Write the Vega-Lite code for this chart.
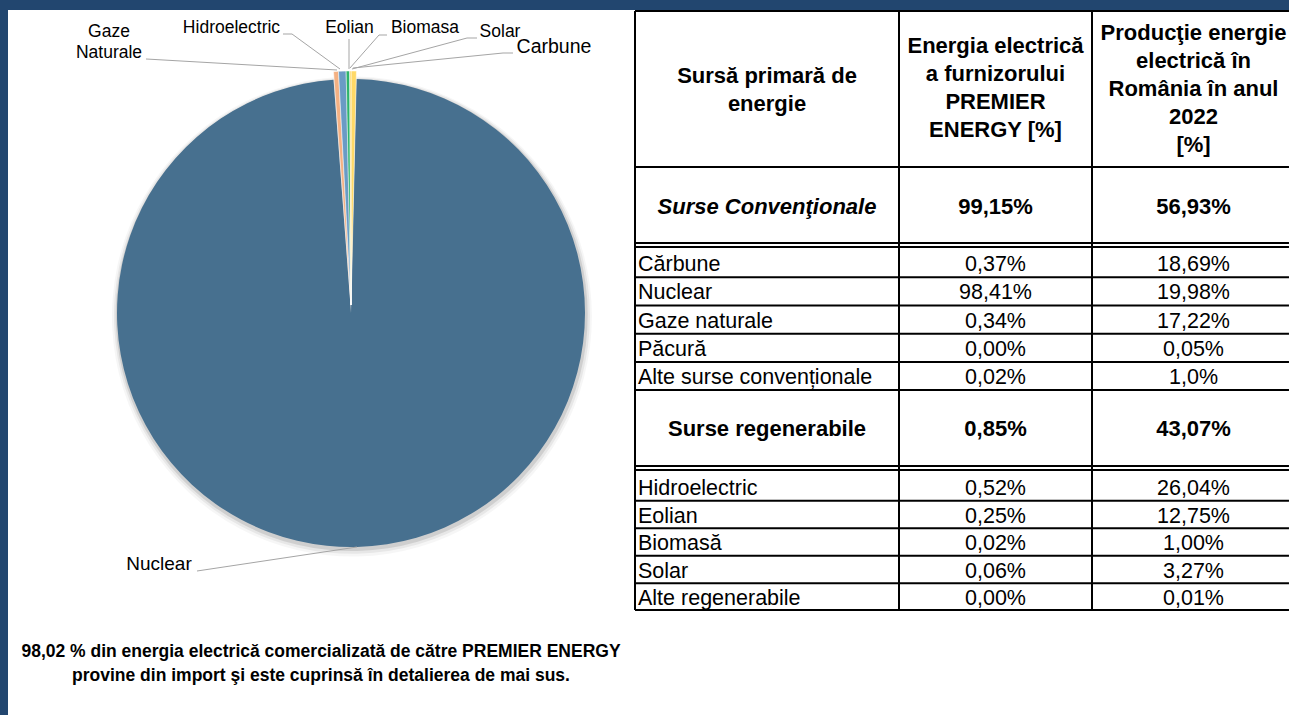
{
  "$schema": "https://vega.github.io/schema/vega-lite/v6.json",
  "background": "#22466F",
  "padding": {"left": 8, "top": 10, "right": 0, "bottom": 0},
  "bounds": "flush",
  "spacing": 0,
  "config": {"view": {"stroke": null, "fill": "white"}, "font": "Liberation Sans", "axis": {"minExtent": 0}},
  "datasets": {
    "slices": [
      {"name": "Carbune", "label": "Carbune", "value": 0.37, "ord": 1},
      {"name": "Nuclear", "label": "Nuclear", "value": 98.41, "ord": 2},
      {"name": "Gaze", "label": "Gaze Naturale", "value": 0.34, "ord": 3},
      {"name": "Hidroelectric", "label": "Hidroelectric", "value": 0.52, "ord": 4},
      {"name": "Eolian", "label": "Eolian", "value": 0.25, "ord": 5},
      {"name": "Biomasa", "label": "Biomasa", "value": 0.02, "ord": 6},
      {"name": "Solar", "label": "Solar", "value": 0.06, "ord": 7}
    ],
    "note": [
      {"t": "98,02 % din energia electrică comercializată de către PREMIER ENERGY\nprovine din import şi este cuprinsă în detalierea de mai sus."}
    ],
    "table": [
      {"r": 0, "c": 1, "k": "h", "t": "Sursă primară de\nenergie"},
      {"r": 0, "c": 2, "k": "h", "t": "Energia electrică\na furnizorului\nPREMIER\nENERGY [%]"},
      {"r": 0, "c": 3, "k": "h", "t": "Producţie energie\nelectrică în\nRomânia în anul\n2022\n[%]"},
      {"r": 1, "c": 1, "k": "si", "t": "Surse Convenţionale"},
      {"r": 1, "c": 2, "k": "s", "t": "99,15%"},
      {"r": 1, "c": 3, "k": "s", "t": "56,93%"},
      {"r": 2, "c": 1, "k": "d", "t": "Cărbune"},
      {"r": 2, "c": 2, "k": "d", "t": "0,37%"},
      {"r": 2, "c": 3, "k": "d", "t": "18,69%"},
      {"r": 3, "c": 1, "k": "d", "t": "Nuclear"},
      {"r": 3, "c": 2, "k": "d", "t": "98,41%"},
      {"r": 3, "c": 3, "k": "d", "t": "19,98%"},
      {"r": 4, "c": 1, "k": "d", "t": "Gaze naturale"},
      {"r": 4, "c": 2, "k": "d", "t": "0,34%"},
      {"r": 4, "c": 3, "k": "d", "t": "17,22%"},
      {"r": 5, "c": 1, "k": "d", "t": "Păcură"},
      {"r": 5, "c": 2, "k": "d", "t": "0,00%"},
      {"r": 5, "c": 3, "k": "d", "t": "0,05%"},
      {"r": 6, "c": 1, "k": "d", "t": "Alte surse convenționale"},
      {"r": 6, "c": 2, "k": "d", "t": "0,02%"},
      {"r": 6, "c": 3, "k": "d", "t": "1,0%"},
      {"r": 7, "c": 1, "k": "s", "t": "Surse regenerabile"},
      {"r": 7, "c": 2, "k": "s", "t": "0,85%"},
      {"r": 7, "c": 3, "k": "s", "t": "43,07%"},
      {"r": 8, "c": 1, "k": "d", "t": "Hidroelectric"},
      {"r": 8, "c": 2, "k": "d", "t": "0,52%"},
      {"r": 8, "c": 3, "k": "d", "t": "26,04%"},
      {"r": 9, "c": 1, "k": "d", "t": "Eolian"},
      {"r": 9, "c": 2, "k": "d", "t": "0,25%"},
      {"r": 9, "c": 3, "k": "d", "t": "12,75%"},
      {"r": 10, "c": 1, "k": "d", "t": "Biomasă"},
      {"r": 10, "c": 2, "k": "d", "t": "0,02%"},
      {"r": 10, "c": 3, "k": "d", "t": "1,00%"},
      {"r": 11, "c": 1, "k": "d", "t": "Solar"},
      {"r": 11, "c": 2, "k": "d", "t": "0,06%"},
      {"r": 11, "c": 3, "k": "d", "t": "3,27%"},
      {"r": 12, "c": 1, "k": "d", "t": "Alte regenerabile"},
      {"r": 12, "c": 2, "k": "d", "t": "0,00%"},
      {"r": 12, "c": 3, "k": "d", "t": "0,01%"}
    ]
  },
  "hconcat": [
    {
      "width": 626,
      "height": 705,
      "data": {"name": "slices"},
      "layer": [
        {"mark": {"type": "arc", "outerRadius": 240, "fill": "#000", "fillOpacity": 0.035},
         "encoding": {"x": {"datum": 0.004, "type": "quantitative", "axis": null}, "y": {"datum": -0.015, "type": "quantitative", "axis": null}, "theta": {"field": "value", "type": "quantitative", "stack": true}, "order": {"field": "ord", "type": "quantitative"}}},
        {"mark": {"type": "arc", "outerRadius": 238, "fill": "#000", "fillOpacity": 0.06},
         "encoding": {"x": {"datum": 0.004, "type": "quantitative", "axis": null}, "y": {"datum": -0.012, "type": "quantitative", "axis": null}, "theta": {"field": "value", "type": "quantitative", "stack": true}, "order": {"field": "ord", "type": "quantitative"}}},
        {"mark": {"type": "arc", "outerRadius": 236, "fill": "#000", "fillOpacity": 0.1},
         "encoding": {"x": {"datum": 0.003, "type": "quantitative", "axis": null}, "y": {"datum": -0.009, "type": "quantitative", "axis": null}, "theta": {"field": "value", "type": "quantitative", "stack": true}, "order": {"field": "ord", "type": "quantitative"}}},
        {"mark": {"type": "arc", "outerRadius": 234},
         "encoding": {
           "x": {"datum": 0, "type": "quantitative", "axis": null, "scale": {"domain": [-1.46581, 1.2094], "nice": false, "zero": false}},
           "y": {"datum": 0, "type": "quantitative", "axis": null, "scale": {"domain": [-1.71795, 1.29487], "nice": false, "zero": false}},
           "theta": {"field": "value", "type": "quantitative", "stack": true},
           "order": {"field": "ord", "type": "quantitative"},
           "color": {"field": "name", "type": "nominal", "legend": null,
             "scale": {"domain": ["Carbune", "Nuclear", "Gaze", "Hidroelectric", "Eolian", "Biomasa", "Solar"],
                       "range": ["#FFD966", "#47708F", "#F4B183", "#6A9BC5", "#2EB46C", "#A5A5A5", "#FFC000"]}},
           "opacity": {"condition": {"test": "datum.name === 'Nuclear'", "value": 1}, "value": 0}
         }},
        {"mark": {"type": "arc", "outerRadius": 234, "stroke": "white", "strokeWidth": 0.5},
         "encoding": {
           "x": {"datum": 0, "type": "quantitative", "axis": null},
           "y": {"datum": 0.0342, "type": "quantitative", "axis": null},
           "theta": {"field": "value", "type": "quantitative", "stack": true},
           "order": {"field": "ord", "type": "quantitative"},
           "color": {"field": "name", "type": "nominal", "legend": null},
           "opacity": {"condition": {"test": "datum.name === 'Nuclear'", "value": 0}, "value": 1}
         }},
        {"transform": [{"filter": "datum.name === 'Gaze'"}], "mark": {"type": "rule", "color": "#A5A5A5", "strokeWidth": 1},
         "encoding": {"x": {"datum": -0.8761, "type": "quantitative", "axis": null}, "y": {"datum": 1.0855, "type": "quantitative", "axis": null}, "x2": {"datum": -0.0598}, "y2": {"datum": 1.0385}}},
        {"transform": [{"filter": "datum.name === 'Hidroelectric'"}], "mark": {"type": "rule", "color": "#A5A5A5", "strokeWidth": 1},
         "encoding": {"x": {"datum": -0.2906, "type": "quantitative", "axis": null}, "y": {"datum": 1.1923, "type": "quantitative", "axis": null}, "x2": {"datum": -0.2521}, "y2": {"datum": 1.1923}}},
        {"transform": [{"filter": "datum.name === 'Hidroelectric'"}], "mark": {"type": "rule", "color": "#A5A5A5", "strokeWidth": 1},
         "encoding": {"x": {"datum": -0.2521, "type": "quantitative", "axis": null}, "y": {"datum": 1.1923, "type": "quantitative", "axis": null}, "x2": {"datum": -0.047}, "y2": {"datum": 1.0427}}},
        {"transform": [{"filter": "datum.name === 'Eolian'"}], "mark": {"type": "rule", "color": "#A5A5A5", "strokeWidth": 1},
         "encoding": {"x": {"datum": -0.0085, "type": "quantitative", "axis": null}, "y": {"datum": 1.1709, "type": "quantitative", "axis": null}, "x2": {"datum": -0.0085}, "y2": {"datum": 1.0427}}},
        {"transform": [{"filter": "datum.name === 'Biomasa'"}], "mark": {"type": "rule", "color": "#A5A5A5", "strokeWidth": 1},
         "encoding": {"x": {"datum": 0.1538, "type": "quantitative", "axis": null}, "y": {"datum": 1.188, "type": "quantitative", "axis": null}, "x2": {"datum": 0.1197}, "y2": {"datum": 1.188}}},
        {"transform": [{"filter": "datum.name === 'Biomasa'"}], "mark": {"type": "rule", "color": "#A5A5A5", "strokeWidth": 1},
         "encoding": {"x": {"datum": 0.1197, "type": "quantitative", "axis": null}, "y": {"datum": 1.188, "type": "quantitative", "axis": null}, "x2": {"datum": -0.0043}, "y2": {"datum": 1.047}}},
        {"transform": [{"filter": "datum.name === 'Solar'"}], "mark": {"type": "rule", "color": "#A5A5A5", "strokeWidth": 1},
         "encoding": {"x": {"datum": 0.5385, "type": "quantitative", "axis": null}, "y": {"datum": 1.1752, "type": "quantitative", "axis": null}, "x2": {"datum": 0.4957}, "y2": {"datum": 1.1752}}},
        {"transform": [{"filter": "datum.name === 'Solar'"}], "mark": {"type": "rule", "color": "#A5A5A5", "strokeWidth": 1},
         "encoding": {"x": {"datum": 0.4957, "type": "quantitative", "axis": null}, "y": {"datum": 1.1752, "type": "quantitative", "axis": null}, "x2": {"datum": 0.0043}, "y2": {"datum": 1.0427}}},
        {"transform": [{"filter": "datum.name === 'Carbune'"}], "mark": {"type": "rule", "color": "#A5A5A5", "strokeWidth": 1},
         "encoding": {"x": {"datum": 0.6923, "type": "quantitative", "axis": null}, "y": {"datum": 1.1111, "type": "quantitative", "axis": null}, "x2": {"datum": 0.6496}, "y2": {"datum": 1.1111}}},
        {"transform": [{"filter": "datum.name === 'Carbune'"}], "mark": {"type": "rule", "color": "#A5A5A5", "strokeWidth": 1},
         "encoding": {"x": {"datum": 0.6496, "type": "quantitative", "axis": null}, "y": {"datum": 1.1111, "type": "quantitative", "axis": null}, "x2": {"datum": 0.0085}, "y2": {"datum": 1.047}}},
        {"transform": [{"filter": "datum.name === 'Nuclear'"}], "mark": {"type": "rule", "color": "#A5A5A5", "strokeWidth": 1},
         "encoding": {"x": {"datum": -0.6581, "type": "quantitative", "axis": null}, "y": {"datum": -1.1026, "type": "quantitative", "axis": null}, "x2": {"datum": 0.0256}, "y2": {"datum": -1.0}}},
        {"transform": [{"filter": "datum.name === 'Gaze'"}], "mark": {"type": "text", "fontSize": 17.5, "lineBreak": " ", "lineHeight": 21, "align": "center", "baseline": "alphabetic", "color": "#000"},
         "encoding": {"x": {"datum": -1.0342, "type": "quantitative", "axis": null}, "y": {"datum": 1.1795, "type": "quantitative", "axis": null}, "text": {"field": "label"}}},
        {"transform": [{"filter": "datum.name === 'Hidroelectric'"}], "mark": {"type": "text", "fontSize": 17.5, "align": "center", "baseline": "alphabetic", "color": "#000"},
         "encoding": {"x": {"datum": -0.5107, "type": "quantitative", "axis": null}, "y": {"datum": 1.1966, "type": "quantitative", "axis": null}, "text": {"field": "label"}}},
        {"transform": [{"filter": "datum.name === 'Eolian'"}], "mark": {"type": "text", "fontSize": 17.5, "align": "center", "baseline": "alphabetic", "color": "#000"},
         "encoding": {"x": {"datum": -0.0064, "type": "quantitative", "axis": null}, "y": {"datum": 1.1966, "type": "quantitative", "axis": null}, "text": {"field": "label"}}},
        {"transform": [{"filter": "datum.name === 'Biomasa'"}], "mark": {"type": "text", "fontSize": 17.5, "align": "center", "baseline": "alphabetic", "color": "#000"},
         "encoding": {"x": {"datum": 0.3162, "type": "quantitative", "axis": null}, "y": {"datum": 1.1966, "type": "quantitative", "axis": null}, "text": {"field": "label"}}},
        {"transform": [{"filter": "datum.name === 'Solar'"}], "mark": {"type": "text", "fontSize": 17.5, "align": "center", "baseline": "alphabetic", "color": "#000"},
         "encoding": {"x": {"datum": 0.6368, "type": "quantitative", "axis": null}, "y": {"datum": 1.1795, "type": "quantitative", "axis": null}, "text": {"field": "label"}}},
        {"transform": [{"filter": "datum.name === 'Carbune'"}], "mark": {"type": "text", "fontSize": 19.5, "align": "center", "baseline": "alphabetic", "color": "#000"},
         "encoding": {"x": {"datum": 0.8675, "type": "quantitative", "axis": null}, "y": {"datum": 1.1111, "type": "quantitative", "axis": null}, "text": {"field": "label"}}},
        {"transform": [{"filter": "datum.name === 'Nuclear'"}], "mark": {"type": "text", "fontSize": 19, "align": "center", "baseline": "alphabetic", "color": "#000"},
         "encoding": {"x": {"datum": -0.8205, "type": "quantitative", "axis": null}, "y": {"datum": -1.0983, "type": "quantitative", "axis": null}, "text": {"field": "label"}}},
        {"data": {"name": "note"}, "mark": {"type": "text", "fontSize": 17.5, "fontWeight": "bold", "lineBreak": "\n", "lineHeight": 24, "align": "center", "baseline": "middle", "color": "#000"},
         "encoding": {"x": {"datum": -0.1282, "type": "quantitative", "axis": null}, "y": {"datum": -1.4487, "type": "quantitative", "axis": null}, "text": {"field": "t"}}}
      ]
    },
    {
      "width": 655,
      "height": 705,
      "data": {"name": "table"},
      "layer": [
        {"transform": [{"filter": "datum.k === 'h' && datum.c === 1"}],
         "mark": {"type": "text", "fontSize": 22, "fontWeight": "bold", "lineBreak": "\n", "lineHeight": 28, "align": "center", "baseline": "middle", "dy": -12.5, "color": "#000"},
         "encoding": {
           "x": {"field": "c", "type": "quantitative", "axis": null,
                 "scale": {"domain": [0.5, 1, 1.5, 2, 2.5, 3, 3.5], "range": [1, 133, 265, 361.5, 458, 559.5, 660], "nice": false, "zero": false}},
           "y": {"field": "r", "type": "quantitative", "axis": null,
                 "scale": {"domain": [-0.5, 0, 0.5, 1, 1.45, 1.55, 2, 6, 6.5, 7, 7.45, 7.55, 8, 12, 12.5, 16],
                           "range": [1, 78.5, 157, 197, 233, 237, 253, 366, 380, 419, 456, 460, 477, 587, 600, 705], "nice": false, "zero": false}},
           "text": {"field": "t"}
         }},
        {"transform": [{"filter": "datum.k === 'h' && datum.c === 2"}],
         "mark": {"type": "text", "fontSize": 22, "fontWeight": "bold", "lineBreak": "\n", "lineHeight": 28, "align": "center", "baseline": "middle", "dy": -42.5, "color": "#000"},
         "encoding": {"x": {"field": "c", "type": "quantitative", "axis": null}, "y": {"field": "r", "type": "quantitative", "axis": null}, "text": {"field": "t"}}},
        {"transform": [{"filter": "datum.k === 'h' && datum.c === 3"}],
         "mark": {"type": "text", "fontSize": 22, "fontWeight": "bold", "lineBreak": "\n", "lineHeight": 28, "align": "center", "baseline": "middle", "dy": -55.5, "color": "#000"},
         "encoding": {"x": {"field": "c", "type": "quantitative", "axis": null}, "y": {"field": "r", "type": "quantitative", "axis": null}, "text": {"field": "t"}}},
        {"data": {"values": [{}]}, "mark": {"type": "rule", "color": "#000", "strokeWidth": 2},
         "encoding": {"x": {"datum": 0.5, "type": "quantitative", "axis": null}, "y": {"datum": -0.5, "type": "quantitative", "axis": null}, "y2": {"datum": 12.5}}},
        {"data": {"values": [{}]}, "mark": {"type": "rule", "color": "#000", "strokeWidth": 2},
         "encoding": {"x": {"datum": 1.5, "type": "quantitative", "axis": null}, "y": {"datum": -0.5, "type": "quantitative", "axis": null}, "y2": {"datum": 12.5}}},
        {"data": {"values": [{}]}, "mark": {"type": "rule", "color": "#000", "strokeWidth": 2},
         "encoding": {"x": {"datum": 2.5, "type": "quantitative", "axis": null}, "y": {"datum": -0.5, "type": "quantitative", "axis": null}, "y2": {"datum": 12.5}}},
        {"data": {"values": [{}]}, "mark": {"type": "rule", "color": "#000", "strokeWidth": 2},
         "encoding": {"x": {"datum": 0.5, "type": "quantitative", "axis": null}, "x2": {"datum": 3.475}, "y": {"datum": -0.5, "type": "quantitative", "axis": null}}},
        {"data": {"values": [{}]}, "mark": {"type": "rule", "color": "#000", "strokeWidth": 2},
         "encoding": {"x": {"datum": 0.5, "type": "quantitative", "axis": null}, "x2": {"datum": 3.475}, "y": {"datum": 0.5, "type": "quantitative", "axis": null}}},
        {"data": {"values": [{}]}, "mark": {"type": "rule", "color": "#000", "strokeWidth": 2},
         "encoding": {"x": {"datum": 0.5, "type": "quantitative", "axis": null}, "x2": {"datum": 3.475}, "y": {"datum": 1.45, "type": "quantitative", "axis": null}}},
        {"data": {"values": [{}]}, "mark": {"type": "rule", "color": "#000", "strokeWidth": 2},
         "encoding": {"x": {"datum": 0.5, "type": "quantitative", "axis": null}, "x2": {"datum": 3.475}, "y": {"datum": 1.55, "type": "quantitative", "axis": null}}},
        {"data": {"values": [{}]}, "mark": {"type": "rule", "color": "#000", "strokeWidth": 2},
         "encoding": {"x": {"datum": 0.5, "type": "quantitative", "axis": null}, "x2": {"datum": 3.475}, "y": {"datum": 2.5, "type": "quantitative", "axis": null}}},
        {"data": {"values": [{}]}, "mark": {"type": "rule", "color": "#000", "strokeWidth": 2},
         "encoding": {"x": {"datum": 0.5, "type": "quantitative", "axis": null}, "x2": {"datum": 3.475}, "y": {"datum": 3.5, "type": "quantitative", "axis": null}}},
        {"data": {"values": [{}]}, "mark": {"type": "rule", "color": "#000", "strokeWidth": 2},
         "encoding": {"x": {"datum": 0.5, "type": "quantitative", "axis": null}, "x2": {"datum": 3.475}, "y": {"datum": 4.5, "type": "quantitative", "axis": null}}},
        {"data": {"values": [{}]}, "mark": {"type": "rule", "color": "#000", "strokeWidth": 2},
         "encoding": {"x": {"datum": 0.5, "type": "quantitative", "axis": null}, "x2": {"datum": 3.475}, "y": {"datum": 5.5, "type": "quantitative", "axis": null}}},
        {"data": {"values": [{}]}, "mark": {"type": "rule", "color": "#000", "strokeWidth": 2},
         "encoding": {"x": {"datum": 0.5, "type": "quantitative", "axis": null}, "x2": {"datum": 3.475}, "y": {"datum": 6.5, "type": "quantitative", "axis": null}}},
        {"data": {"values": [{}]}, "mark": {"type": "rule", "color": "#000", "strokeWidth": 2},
         "encoding": {"x": {"datum": 0.5, "type": "quantitative", "axis": null}, "x2": {"datum": 3.475}, "y": {"datum": 7.45, "type": "quantitative", "axis": null}}},
        {"data": {"values": [{}]}, "mark": {"type": "rule", "color": "#000", "strokeWidth": 2},
         "encoding": {"x": {"datum": 0.5, "type": "quantitative", "axis": null}, "x2": {"datum": 3.475}, "y": {"datum": 7.55, "type": "quantitative", "axis": null}}},
        {"data": {"values": [{}]}, "mark": {"type": "rule", "color": "#000", "strokeWidth": 2},
         "encoding": {"x": {"datum": 0.5, "type": "quantitative", "axis": null}, "x2": {"datum": 3.475}, "y": {"datum": 8.5, "type": "quantitative", "axis": null}}},
        {"data": {"values": [{}]}, "mark": {"type": "rule", "color": "#000", "strokeWidth": 2},
         "encoding": {"x": {"datum": 0.5, "type": "quantitative", "axis": null}, "x2": {"datum": 3.475}, "y": {"datum": 9.5, "type": "quantitative", "axis": null}}},
        {"data": {"values": [{}]}, "mark": {"type": "rule", "color": "#000", "strokeWidth": 2},
         "encoding": {"x": {"datum": 0.5, "type": "quantitative", "axis": null}, "x2": {"datum": 3.475}, "y": {"datum": 10.5, "type": "quantitative", "axis": null}}},
        {"data": {"values": [{}]}, "mark": {"type": "rule", "color": "#000", "strokeWidth": 2},
         "encoding": {"x": {"datum": 0.5, "type": "quantitative", "axis": null}, "x2": {"datum": 3.475}, "y": {"datum": 11.5, "type": "quantitative", "axis": null}}},
        {"data": {"values": [{}]}, "mark": {"type": "rule", "color": "#000", "strokeWidth": 2},
         "encoding": {"x": {"datum": 0.5, "type": "quantitative", "axis": null}, "x2": {"datum": 3.475}, "y": {"datum": 12.5, "type": "quantitative", "axis": null}}},
        {"transform": [{"filter": "datum.k === 'si'"}],
         "mark": {"type": "text", "fontSize": 22, "fontWeight": "bold", "fontStyle": "italic", "align": "center", "baseline": "middle", "color": "#000"},
         "encoding": {"x": {"field": "c", "type": "quantitative", "axis": null}, "y": {"field": "r", "type": "quantitative", "axis": null}, "text": {"field": "t"}}},
        {"transform": [{"filter": "datum.k === 's'"}],
         "mark": {"type": "text", "fontSize": 22, "fontWeight": "bold", "align": "center", "baseline": "middle", "color": "#000"},
         "encoding": {"x": {"field": "c", "type": "quantitative", "axis": null}, "y": {"field": "r", "type": "quantitative", "axis": null}, "text": {"field": "t"}}},
        {"transform": [{"filter": "datum.k === 'd' && datum.c === 1"}],
         "mark": {"type": "text", "fontSize": 21.5, "align": "left", "baseline": "middle", "dx": 3, "dy": 2, "color": "#000"},
         "encoding": {"x": {"datum": 0.5, "type": "quantitative", "axis": null}, "y": {"field": "r", "type": "quantitative", "axis": null}, "text": {"field": "t"}}},
        {"transform": [{"filter": "datum.k === 'd' && datum.c > 1"}],
         "mark": {"type": "text", "fontSize": 21.5, "align": "center", "baseline": "middle", "dy": 2, "color": "#000"},
         "encoding": {"x": {"field": "c", "type": "quantitative", "axis": null}, "y": {"field": "r", "type": "quantitative", "axis": null}, "text": {"field": "t"}}}
      ]
    }
  ]
}
